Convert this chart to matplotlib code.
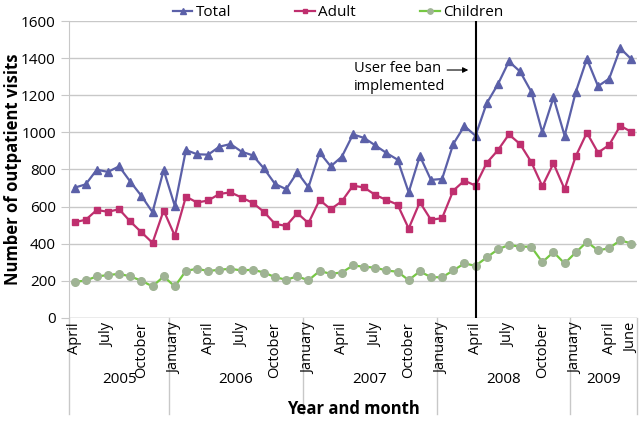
import numpy as np
import matplotlib
matplotlib.use("Agg")
import matplotlib.pyplot as plt

plt.rcParams["font.family"] = ["Open Sans", "DejaVu Sans"]

# monthly data, April 2005 .. June 2009
total = [702, 720, 799, 787, 817, 735, 658, 570, 797,
         604, 905, 882, 880, 923, 937, 896, 876, 806, 722, 694, 785,
         704, 892, 817, 869, 989, 970, 930, 889, 853, 677, 873, 744,
         749, 937, 1034, 982, 1156, 1258, 1382, 1328, 1220, 1000, 1188, 982,
         1217, 1396, 1249, 1289, 1453, 1394]
adult = [516, 529, 582, 572, 586, 520, 462, 405, 579,
         443, 654, 622, 633, 668, 677, 649, 620, 572, 507, 496, 565,
         511, 636, 586, 629, 713, 703, 663, 636, 611, 482, 624, 529,
         538, 686, 740, 713, 835, 903, 989, 937, 841, 710, 833, 694,
         871, 998, 891, 932, 1036, 1002]
children = [194, 202, 224, 231, 238, 224, 201, 170, 224,
            170, 254, 265, 253, 260, 265, 256, 260, 245, 220, 206, 224,
            203, 253, 238, 245, 283, 276, 271, 256, 249, 204, 251, 220,
            219, 256, 294, 281, 326, 369, 394, 384, 384, 301, 355, 294,
            353, 410, 364, 376, 419, 401]

month_names = ["January", "February", "March", "April", "May", "June", "July",
               "August", "September", "October", "November", "December"]
years = [2005, 2006, 2007, 2008, 2009]
start_month = 3  # April 2005 (0-based)
ban_index = 36   # April 2008

C_TOTAL = "#5b60a8"
C_ADULT = "#bf2f6e"
C_CHILD = "#76c843"
GRID = "#c8c8c8"

n = len(total)
x = np.arange(n)
months = [(start_month + i) % 12 for i in range(n)]

fig = plt.figure(figsize=(6.4, 4.21), dpi=100)
ax = fig.add_axes([0.1078, 0.2447, 0.8875, 0.7054])

ax.plot(x, total, color=C_TOTAL, marker="^", markersize=5.5, lw=1.6, label="Total")
ax.plot(x, adult, color=C_ADULT, marker="s", markersize=5, lw=1.6, label="Adult")
ax.plot(x, children, color=C_CHILD, marker="o", markersize=5.5, lw=1.6,
        markerfacecolor="#9fb394", markeredgecolor="#9fb394", label="Children")

ax.axvline(ban_index, color="black", lw=1.5, zorder=5)

ax.set_xlim(-0.5, n - 0.5)
ax.set_ylim(0, 1600)
ax.set_yticks(range(0, 1601, 200))
ax.yaxis.grid(True, color=GRID, lw=1)
ax.set_axisbelow(True)
for s in ["top", "right", "bottom"]:
    ax.spines[s].set_visible(False)
ax.spines["left"].set_color(GRID)
ax.axhline(0, color=GRID, lw=1, zorder=0)
ax.tick_params(axis="y", colors=GRID, labelcolor="black", labelsize=11, length=6)
ax.set_xticks([])

# month labels every third month plus the last one
label_idx = [i for i in range(n) if i % 3 == 0] + [n - 1]
for i in label_idx:
    ax.text(i, -25, month_names[months[i]], rotation=90, ha="center", va="top",
            fontsize=10.5, clip_on=False)

# year separators and year labels
bounds = [-0.5] + [i - 0.5 for i in range(1, n) if months[i] == 0] + [n - 0.5]
for b in bounds:
    ax.plot([b, b], [0, -520], color=GRID, lw=1, clip_on=False)
for k, y in enumerate(years):
    ax.text((bounds[k] + bounds[k + 1]) / 2, -330, str(y), ha="center", va="center",
            fontsize=11)

ax.text(0.5, -0.305, "Year and month", transform=ax.transAxes, ha="center",
        va="center", fontsize=12, fontweight="bold")
ax.set_ylabel("Number of outpatient visits", fontsize=12, fontweight="bold")
ax.yaxis.set_label_coords(-0.083, 0.5)

ax.text(25.1, 1296, "User fee ban\nimplemented", fontsize=10.5, ha="left",
        va="center", linespacing=1.3)
ax.annotate("", xy=(35.6, 1336), xytext=(33.2, 1336),
            arrowprops=dict(arrowstyle="-|>", color="black", lw=0.8, mutation_scale=8))

fig.legend(loc="upper center", bbox_to_anchor=(0.528, 1.02), ncol=3, frameon=False,
           fontsize=11, handlelength=1.3, handletextpad=0.2, columnspacing=4.2,
           markerscale=0.7)

fig.savefig("out.png", dpi=100)
